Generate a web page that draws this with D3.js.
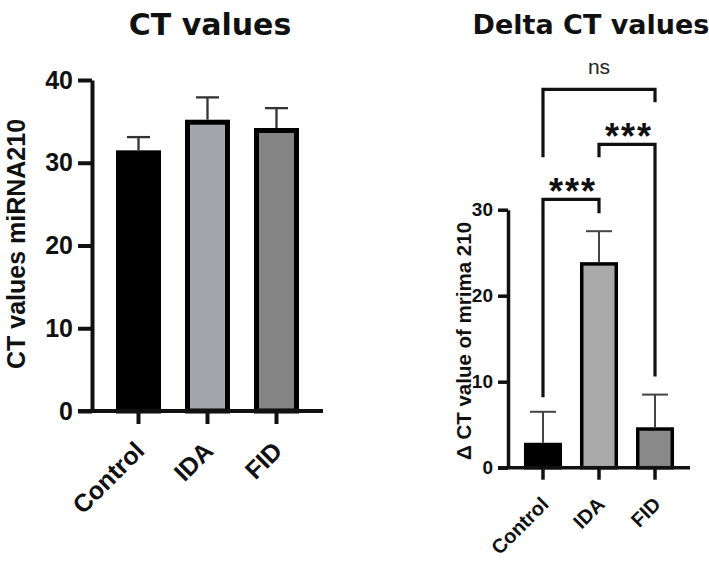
<!DOCTYPE html>
<html>
<head>
<meta charset="utf-8">
<script src="https://cdn.jsdelivr.net/npm/d3@7"></script>
<style>
  html, body { margin: 0; padding: 0; background: #fff; }
  svg { display: block; }
</style>
</head>
<body>
<svg id="chart" width="709" height="564"></svg>
<script>
// ---------- data ----------
const categories = ["Control", "IDA", "FID"];
const ctMeans = [31.5, 35.2, 34.2];
const ctErrors = [1.6, 2.7, 2.4];
const ctTicks = [0, 10, 20, 30, 40];
const deltaMeans = [2.9, 23.9, 4.7];
const deltaErrors = [3.6, 3.6, 3.8];
const deltaTicks = [0, 10, 20, 30];
const ctColors = ["#000000", "#a3a6ad", "#858585"];
const deltaColors = ["#000000", "#aaaaaa", "#898989"];
// significance comparisons (levels in data units of the delta chart)
const compFrom = ["Control", "IDA", "Control"];
const compTo = ["IDA", "FID", "FID"];
const compLabels = ["***", "***", "ns"];
const compLine = [31.2, 37.6, 44.0];
const compLegFrom = [8.2, 36.1, 36.1];
const compLegTo = [29.6, 10.6, 42.5];

const svg = d3.select("#chart");
const titleFont = "'DejaVu Sans', sans-serif";
const font = "'Liberation Sans', Arial, sans-serif";

// ---------- left chart: CT values ----------
(function () {
  const x0 = 92, x1 = 323, yTop = 80, yBot = 411;
  const x = d3.scaleBand().domain(categories).range([x0, x1]).paddingInner(0.348).paddingOuter(0.348);
  const y = d3.scaleLinear().domain([0, 40]).range([yBot, yTop]);
  const g = svg.append("g");
  const sw = 5;

  g.selectAll("rect.bar").data(categories).enter().append("rect")
    .attr("x", d => x(d) + sw / 2)
    .attr("width", x.bandwidth() - sw)
    .attr("y", (d, i) => y(ctMeans[i]) + sw / 2)
    .attr("height", (d, i) => yBot - y(ctMeans[i]) - sw / 2)
    .attr("fill", (d, i) => ctColors[i])
    .attr("stroke", "#000").attr("stroke-width", sw);

  const eb = g.selectAll("g.err").data(categories).enter().append("g");
  eb.append("line")
    .attr("x1", d => x(d) + x.bandwidth() / 2).attr("x2", d => x(d) + x.bandwidth() / 2)
    .attr("y1", (d, i) => y(ctMeans[i])).attr("y2", (d, i) => y(ctMeans[i] + ctErrors[i]))
    .attr("stroke", "#333").attr("stroke-width", 2.3);
  eb.append("line")
    .attr("x1", d => x(d) + x.bandwidth() / 2 - 11.5).attr("x2", d => x(d) + x.bandwidth() / 2 + 11.5)
    .attr("y1", (d, i) => y(ctMeans[i] + ctErrors[i])).attr("y2", (d, i) => y(ctMeans[i] + ctErrors[i]))
    .attr("stroke", "#333").attr("stroke-width", 2.3);

  const ya = g.append("g").attr("transform", `translate(${x0},0)`)
    .call(d3.axisLeft(y).tickValues(ctTicks).tickSize(14).tickPadding(5).tickSizeOuter(0));
  ya.select(".domain").attr("stroke", "#111").attr("stroke-width", 4);
  ya.selectAll(".tick line").attr("stroke", "#111").attr("stroke-width", 4);
  ya.selectAll(".tick text").attr("font-family", font).attr("font-weight", "bold")
    .attr("font-size", 25).attr("fill", "#111");

  const xa = g.append("g").attr("transform", `translate(0,${yBot})`)
    .call(d3.axisBottom(x).tickSize(13).tickSizeOuter(0).tickFormat(""));
  xa.select(".domain").attr("d", `M${x0 - 14},0H${x1}`).attr("stroke", "#111").attr("stroke-width", 4);
  xa.selectAll(".tick line").attr("stroke", "#111").attr("stroke-width", 4);
  g.selectAll("text.xl").data(categories).enter().append("text")
    .attr("transform", d => `translate(${x(d) + x.bandwidth() / 2 - 5},${yBot + 29}) rotate(-45)`)
    .attr("text-anchor", "end").attr("dy", "0.7em")
    .attr("font-family", font).attr("font-weight", "bold").attr("font-size", 25).attr("fill", "#111")
    .text(d => d);

  g.append("text").attr("transform", `translate(25,244) rotate(-90)`)
    .attr("text-anchor", "middle")
    .attr("font-family", font).attr("font-weight", "bold").attr("font-size", 25).attr("fill", "#111")
    .text("CT values miRNA210");

  g.append("text").attr("x", 210).attr("y", 35).attr("text-anchor", "middle")
    .attr("font-family", titleFont).attr("font-weight", "bold").attr("font-size", 30).attr("fill", "#111")
    .text("CT values");
})();

// ---------- right chart: Delta CT values ----------
(function () {
  const x0 = 508, x1 = 690, yTop = 209.7, yBot = 467.7;
  const x = d3.scaleBand().domain(categories).range([x0, x1]).paddingInner(0.321).paddingOuter(0.285);
  const y = d3.scaleLinear().domain([0, 30]).range([yBot, yTop]);
  const g = svg.append("g");
  const sw = 3.5;
  const cx = d => x(d) + x.bandwidth() / 2;

  g.selectAll("rect.bar").data(categories).enter().append("rect")
    .attr("x", d => x(d) + sw / 2)
    .attr("width", x.bandwidth() - sw)
    .attr("y", (d, i) => y(deltaMeans[i]) + sw / 2)
    .attr("height", (d, i) => yBot - y(deltaMeans[i]) - sw / 2)
    .attr("fill", (d, i) => deltaColors[i])
    .attr("stroke", "#000").attr("stroke-width", sw);

  const eb = g.selectAll("g.err").data(categories).enter().append("g");
  eb.append("line")
    .attr("x1", cx).attr("x2", cx)
    .attr("y1", (d, i) => y(deltaMeans[i])).attr("y2", (d, i) => y(deltaMeans[i] + deltaErrors[i]))
    .attr("stroke", "#444").attr("stroke-width", 2);
  eb.append("line")
    .attr("x1", d => cx(d) - 13).attr("x2", d => cx(d) + 13)
    .attr("y1", (d, i) => y(deltaMeans[i] + deltaErrors[i])).attr("y2", (d, i) => y(deltaMeans[i] + deltaErrors[i]))
    .attr("stroke", "#444").attr("stroke-width", 2);

  const ya = g.append("g").attr("transform", `translate(${x0},0)`)
    .call(d3.axisLeft(y).tickValues(deltaTicks).tickSize(10).tickPadding(5).tickSizeOuter(0));
  ya.select(".domain").attr("stroke", "#111").attr("stroke-width", 3.5);
  ya.selectAll(".tick line").attr("stroke", "#111").attr("stroke-width", 3.5);
  ya.selectAll(".tick text").attr("font-family", font).attr("font-weight", "bold")
    .attr("font-size", 19).attr("fill", "#111");

  const xa = g.append("g").attr("transform", `translate(0,${yBot})`)
    .call(d3.axisBottom(x).tickSize(12).tickSizeOuter(0).tickFormat(""));
  xa.select(".domain").attr("d", `M${x0 - 10},0H${x1}`).attr("stroke", "#111").attr("stroke-width", 3.5);
  xa.selectAll(".tick line").attr("stroke", "#111").attr("stroke-width", 3.5);
  g.selectAll("text.xl").data(categories).enter().append("text")
    .attr("transform", d => `translate(${cx(d) - 3},${yBot + 28}) rotate(-45)`)
    .attr("text-anchor", "end").attr("dy", "0.7em")
    .attr("font-family", font).attr("font-weight", "bold").attr("font-size", 20).attr("fill", "#111")
    .text(d => d);

  g.append("text").attr("transform", `translate(471,341) rotate(-90)`)
    .attr("text-anchor", "middle")
    .attr("font-family", font).attr("font-weight", "bold").attr("font-size", 20.5).attr("fill", "#111")
    .text("\u0394 CT value of mrima 210");

  g.append("text").attr("x", 591).attr("y", 34).attr("text-anchor", "middle")
    .attr("font-family", titleFont).attr("font-weight", "bold").attr("font-size", 27).attr("fill", "#111")
    .text("Delta CT values");

  compLabels.forEach((lab, i) => {
    const xa_ = cx(compFrom[i]), xb_ = cx(compTo[i]);
    const yl = y(compLine[i]);
    g.append("path")
      .attr("d", `M${xa_},${y(compLegFrom[i])}V${yl}H${xb_}V${y(compLegTo[i])}`)
      .attr("fill", "none").attr("stroke", "#111").attr("stroke-width", 3.2);
    if (lab === "ns") {
      g.append("text").attr("x", (xa_ + xb_) / 2).attr("y", yl - 15).attr("text-anchor", "middle")
        .attr("font-family", font).attr("font-size", 21).attr("fill", "#222").text(lab);
    } else {
      g.append("text").attr("x", (xa_ + xb_) / 2 + 2).attr("y", yl + 5).attr("text-anchor", "middle")
        .attr("font-family", font).attr("font-weight", "bold").attr("font-size", 36)
        .attr("letter-spacing", 2).attr("fill", "#111").text(lab);
    }
  });
})();
</script>
</body>
</html>
